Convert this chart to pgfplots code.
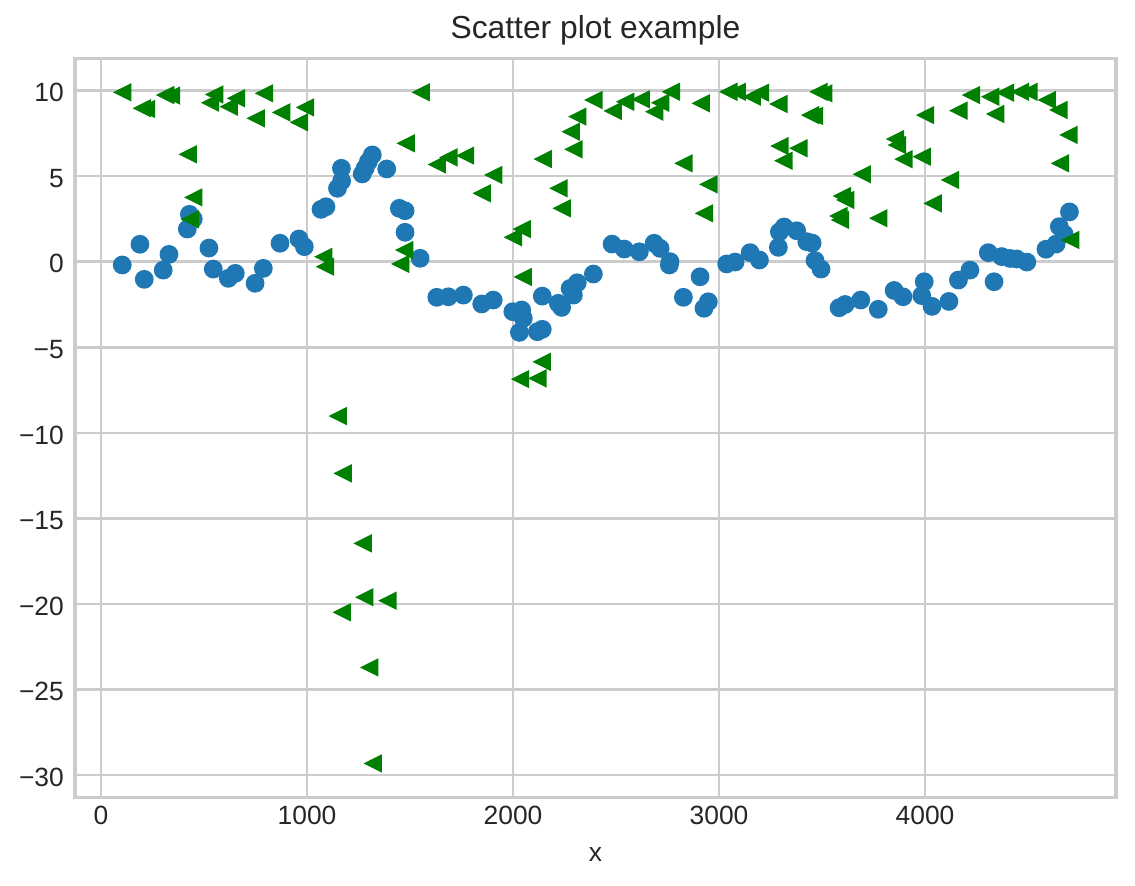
\documentclass[border=0pt]{standalone}
\usepackage{pgfplots}
\pgfplotsset{compat=1.18}
\usepackage{pgfplotstable}
\usepackage{fontspec}
\setmainfont{Liberation Sans}
\definecolor{mblue}{HTML}{1F77B4}
\definecolor{mgreen}{HTML}{008000}
\definecolor{gridc}{HTML}{CCCCCC}
\definecolor{txt}{HTML}{262626}
\pgfdeclareplotmark{ltri}{%
  \pgfpathmoveto{\pgfqpoint{-\pgfplotmarksize}{0pt}}%
  \pgfpathlineto{\pgfqpoint{\pgfplotmarksize}{\pgfplotmarksize}}%
  \pgfpathlineto{\pgfqpoint{\pgfplotmarksize}{-\pgfplotmarksize}}%
  \pgfpathclose\pgfusepathqfill}
\pgfdeclareplotmark{fcirc}{%
  \pgfpathcircle{\pgfpointorigin}{\pgfplotmarksize}%
  \pgfusepathqfill}
\pgfplotstableread{
x y
103 -0.19
189 1.02
210 -1.03
302 -0.49
330 0.43
419 1.91
429 2.77
448 2.50
524 0.80
545 -0.43
618 -0.97
652 -0.68
748 -1.26
788 -0.39
869 1.08
961 1.33
987 0.88
1068 3.06
1092 3.21
1148 4.29
1168 4.72
1167 5.46
1268 5.13
1282 5.46
1298 5.85
1317 6.24
1387 5.42
1448 3.12
1476 2.98
1476 1.72
1549 0.20
1630 -2.08
1686 -2.05
1759 -1.95
1848 -2.47
1904 -2.24
1999 -2.92
2042 -2.82
2050 -3.31
2031 -4.13
2118 -4.09
2142 -3.95
2142 -2.01
2220 -2.43
2236 -2.67
2277 -1.56
2293 -1.95
2312 -1.23
2390 -0.72
2481 1.03
2540 0.74
2613 0.58
2685 1.08
2714 0.78
2762 0.00
2759 -0.19
2827 -2.08
2908 -0.88
2927 -2.72
2948 -2.34
3037 -0.13
3078 -0.02
3151 0.53
3196 0.10
3288 0.84
3293 1.74
3316 2.03
3377 1.81
3426 1.17
3452 1.09
3466 0.07
3495 -0.43
3583 -2.69
3612 -2.50
3688 -2.24
3773 -2.78
3850 -1.68
3893 -2.05
3984 -1.98
3996 -1.17
4034 -2.61
4116 -2.32
4162 -1.07
4218 -0.49
4307 0.53
4335 -1.17
4372 0.30
4413 0.19
4445 0.16
4494 -0.02
4587 0.73
4636 1.03
4652 2.05
4675 1.62
4701 2.91
}\blue
\pgfplotstableread{
x y
103 9.90
198 8.97
218 8.93
311 9.74
340 9.71
421 6.28
448 3.76
432 2.48
529 9.29
549 9.77
620 9.06
655 9.55
751 8.38
791 9.84
874 8.73
961 8.15
990 9.02
1079 0.29
1087 -0.29
1452 -0.13
1472 0.68
1479 6.92
1552 9.90
1630 5.68
1686 6.10
1767 6.20
1848 4.00
1904 5.07
1999 1.43
2042 1.91
2047 -0.89
2034 -6.86
2118 -6.82
2139 -5.85
2144 6.00
2220 4.29
2236 3.12
2280 7.60
2293 6.57
2312 8.48
2390 9.45
2484 8.81
2544 9.35
2620 9.49
2685 8.77
2714 9.29
2766 9.93
2827 5.75
2911 9.26
2927 2.83
2948 4.52
3045 9.93
3086 9.93
3159 9.64
3199 9.88
3288 9.22
3293 6.76
3312 5.90
3385 6.63
3442 8.57
3461 8.52
3482 9.93
3506 9.84
3579 2.67
3587 2.44
3596 3.84
3612 3.61
3693 5.11
3773 2.54
3854 7.17
3863 6.82
3895 5.99
3984 6.14
4000 8.57
4037 3.41
4121 4.78
4162 8.83
4223 9.74
4316 9.64
4340 8.63
4388 9.88
4461 9.93
4502 9.93
4591 9.45
4647 8.87
4655 5.75
4696 7.41
4704 1.27
1149 -9.02
1173 -12.37
1270 -16.46
1278 -19.61
1390 -19.81
1168 -20.49
1302 -23.71
1319 -29.32
}\green
\begin{document}
\begin{tikzpicture}
\useasboundingbox (-37.5pt,-44.35pt) rectangle (530pt,398.65pt);
\begin{axis}[
  scale only axis,
  width=520.5pt, height=369.5pt,
  xmin=-126.2, xmax=4927,
  ymin=-31.30, ymax=11.89,
  xtick={0,1000,2000,3000,4000},
  xticklabels={0,1000,2000,3000,4000},
  ytick={-30,-25,-20,-15,-10,-5,0,5,10},
  yticklabels={−30,−25,−20,−15,−10,−5,0,5,10},
  major tick length=0pt,
  grid=major,
  major grid style={gridc, line width=1.3pt},
  axis line style={gridc, line width=1.6pt},
  xticklabel style={font=\fontsize{13.2}{15}\selectfont, text=txt, anchor=base, yshift=-13.85pt, inner sep=0pt},
  yticklabel style={font=\fontsize{13.2}{15}\selectfont, text=txt, anchor=base east, xshift=-5.4pt, yshift=-5.6pt, inner sep=0pt},
  every axis title/.style={at={(0.5,1)}, anchor=base, yshift=10pt, inner sep=0pt, font=\fontsize{15.9}{18}\selectfont, text=txt},
  every axis x label/.style={at={(0.5,0)}, anchor=base, yshift=-32.2pt, inner sep=0pt, font=\fontsize{13.2}{15}\selectfont, text=txt},
  title={Scatter plot example},
  xlabel={x},
]
\addplot[only marks, mark=fcirc, mark size=4.7pt, color=mblue, mark options={fill=mblue}] table[x=x, y=y] {\blue};
\addplot[only marks, mark=ltri, mark size=4.6pt, color=mgreen, mark options={fill=mgreen}] table[x=x, y=y] {\green};
\end{axis}
\end{tikzpicture}
\end{document}
